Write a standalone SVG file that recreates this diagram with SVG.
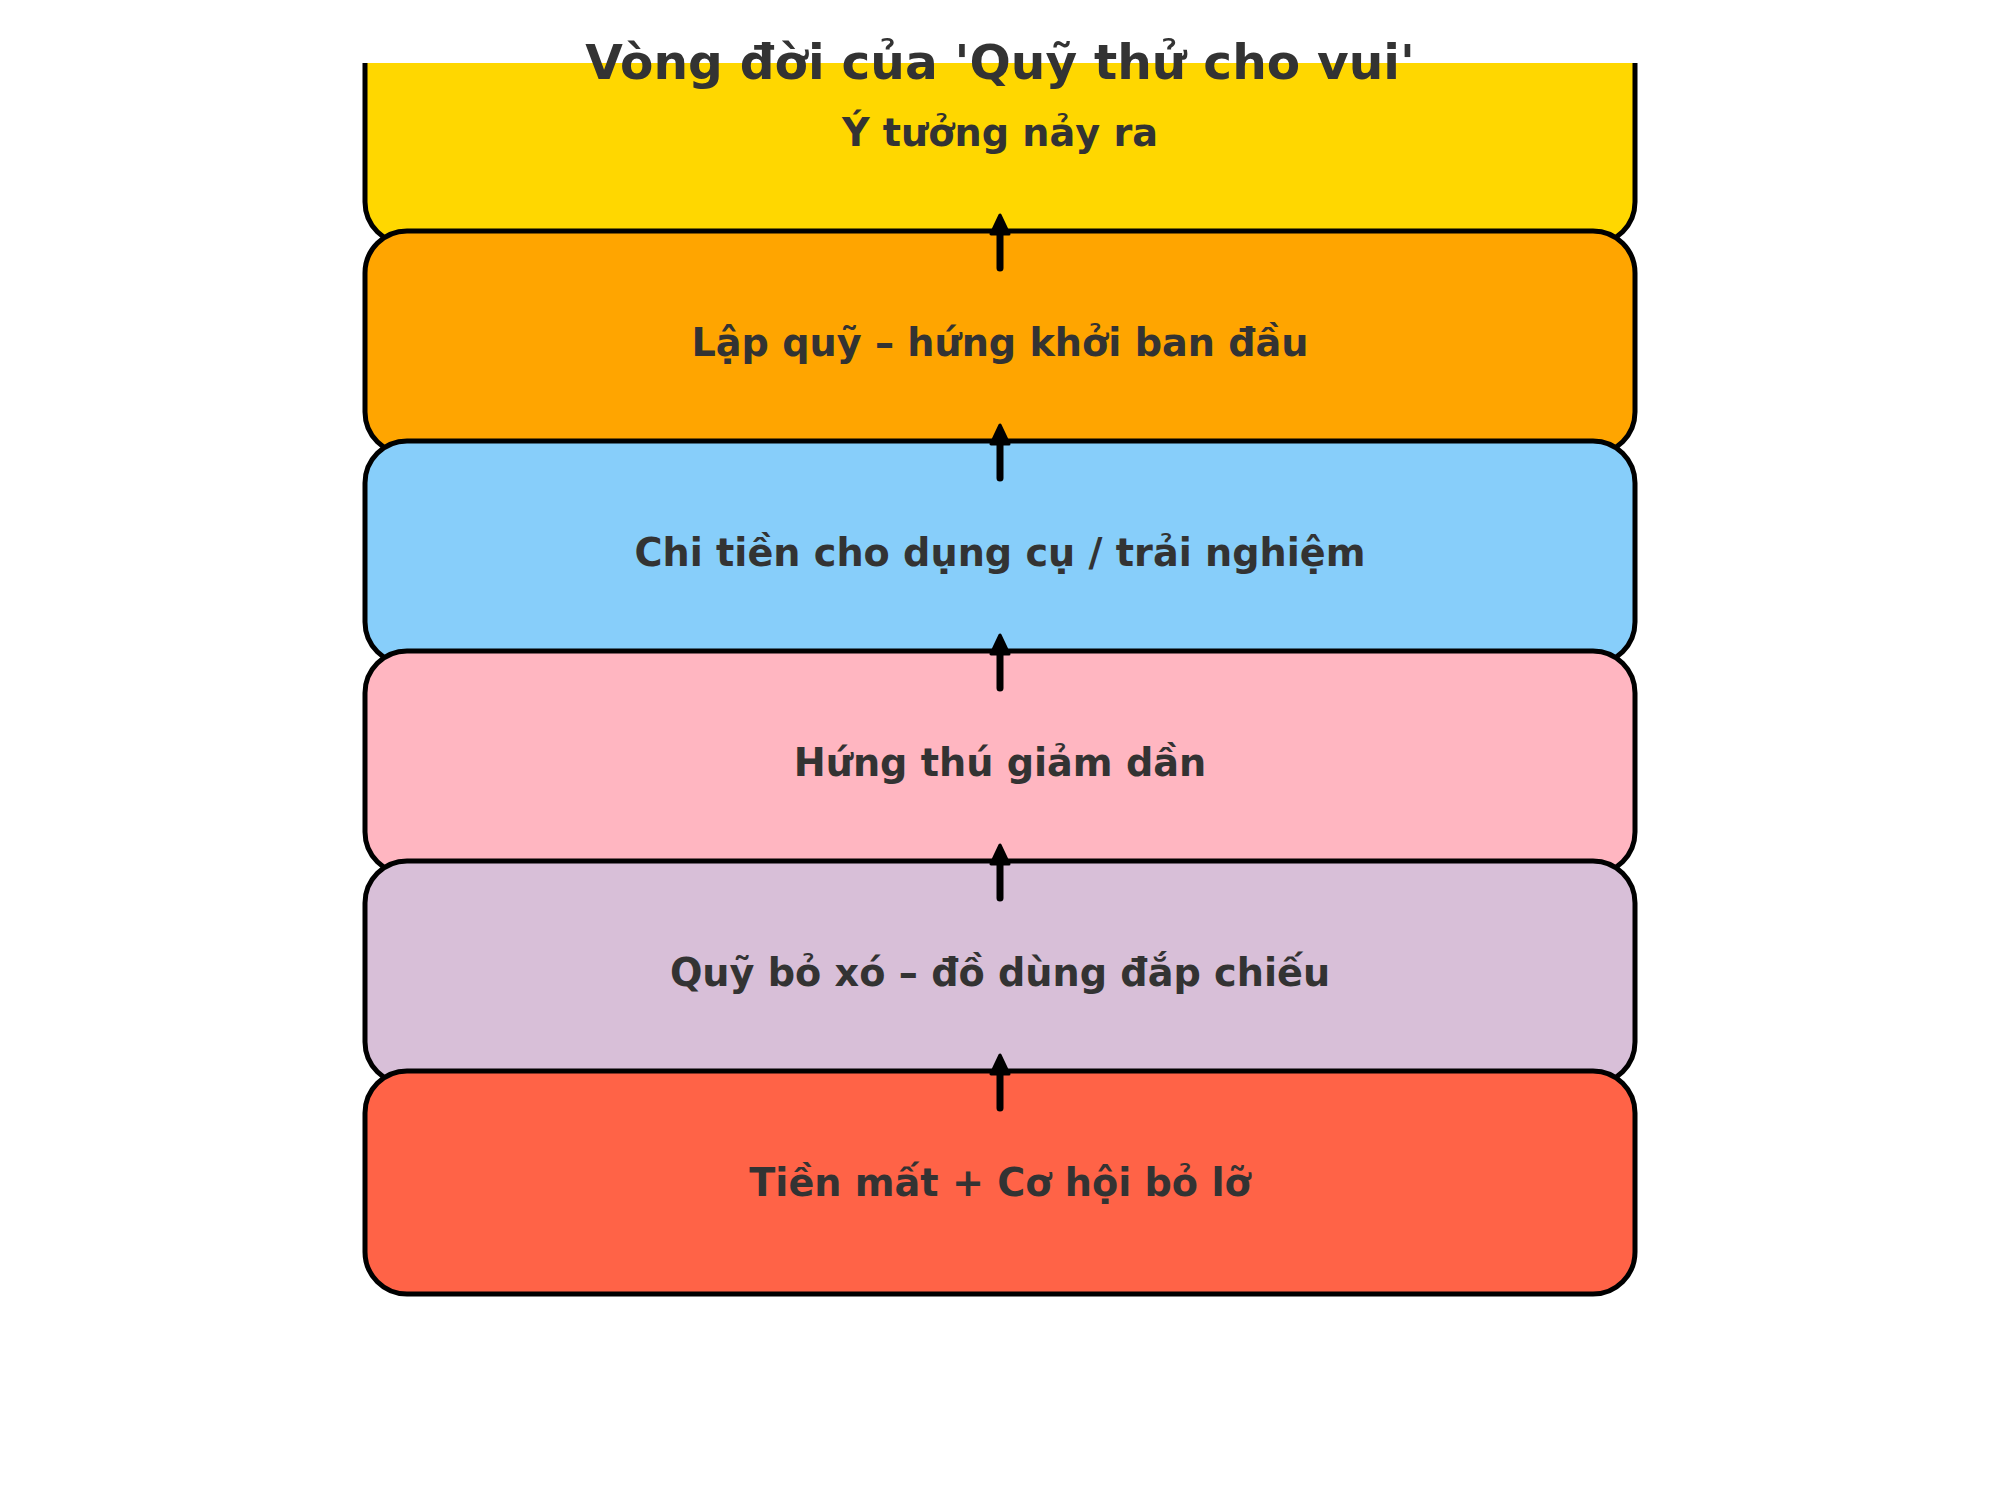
<svg xmlns="http://www.w3.org/2000/svg" width="2000" height="1500" viewBox="0 0 2000 1500">
  <defs>
    <style>
      .box { stroke: #000000; stroke-width: 5; }
      .lbl { font-family: "DejaVu Sans", "Liberation Sans", sans-serif; font-weight: bold; font-size: 38.2px; fill: #333333; text-anchor: middle; }
      .title { font-family: "DejaVu Sans", "Liberation Sans", sans-serif; font-weight: bold; font-size: 48.6px; fill: #333333; text-anchor: middle; }
      .shaft { stroke: #000000; stroke-width: 7; stroke-linecap: round; fill: none; }
      .head { fill: #000000; stroke: #000000; stroke-width: 3; stroke-linejoin: round; }
    </style>
    <clipPath id="axclip">
      <rect x="0" y="63" width="2000" height="1437"/>
    </clipPath>
  </defs>
  <rect x="0" y="0" width="2000" height="1500" fill="#ffffff"/>

  <g id="node-idea" clip-path="url(#axclip)">
    <rect class="box" x="365" y="21" width="1270" height="223" rx="42" ry="42" fill="#FFD700"/>
    <text class="lbl" x="1000" y="146">Ý tưởng nảy ra</text>
  </g>
  <g id="node-setup">
    <rect class="box" x="365" y="231" width="1270" height="223" rx="42" ry="42" fill="#FFA500"/>
    <text class="lbl" x="1000" y="356">Lập quỹ – hứng khởi ban đầu</text>
  </g>
  <g id="node-spend">
    <rect class="box" x="365" y="441" width="1270" height="223" rx="42" ry="42" fill="#87CEFA"/>
    <text class="lbl" x="1000" y="566">Chi tiền cho dụng cụ / trải nghiệm</text>
  </g>
  <g id="node-fade">
    <rect class="box" x="365" y="651" width="1270" height="223" rx="42" ry="42" fill="#FFB6C1"/>
    <text class="lbl" x="1000" y="776">Hứng thú giảm dần</text>
  </g>
  <g id="node-abandon">
    <rect class="box" x="365" y="861" width="1270" height="223" rx="42" ry="42" fill="#D8BFD8"/>
    <text class="lbl" x="1000" y="986">Quỹ bỏ xó – đồ dùng đắp chiếu</text>
  </g>
  <g id="node-loss">
    <rect class="box" x="365" y="1071" width="1270" height="223" rx="42" ry="42" fill="#FF6347"/>
    <text class="lbl" x="1000" y="1196">Tiền mất + Cơ hội bỏ lỡ</text>
  </g>

  <g id="connectors">
    <line class="shaft" x1="1000" y1="268" x2="1000" y2="230"/>
    <polygon class="head" points="1000,215 991,234 1009,234"/>
    <line class="shaft" x1="1000" y1="478" x2="1000" y2="440"/>
    <polygon class="head" points="1000,425 991,444 1009,444"/>
    <line class="shaft" x1="1000" y1="688" x2="1000" y2="650"/>
    <polygon class="head" points="1000,635 991,654 1009,654"/>
    <line class="shaft" x1="1000" y1="898" x2="1000" y2="860"/>
    <polygon class="head" points="1000,845 991,864 1009,864"/>
    <line class="shaft" x1="1000" y1="1108" x2="1000" y2="1070"/>
    <polygon class="head" points="1000,1055 991,1074 1009,1074"/>
  </g>

  <text id="title" class="title" x="1000" y="79">Vòng đời của 'Quỹ thử cho vui'</text>
</svg>
